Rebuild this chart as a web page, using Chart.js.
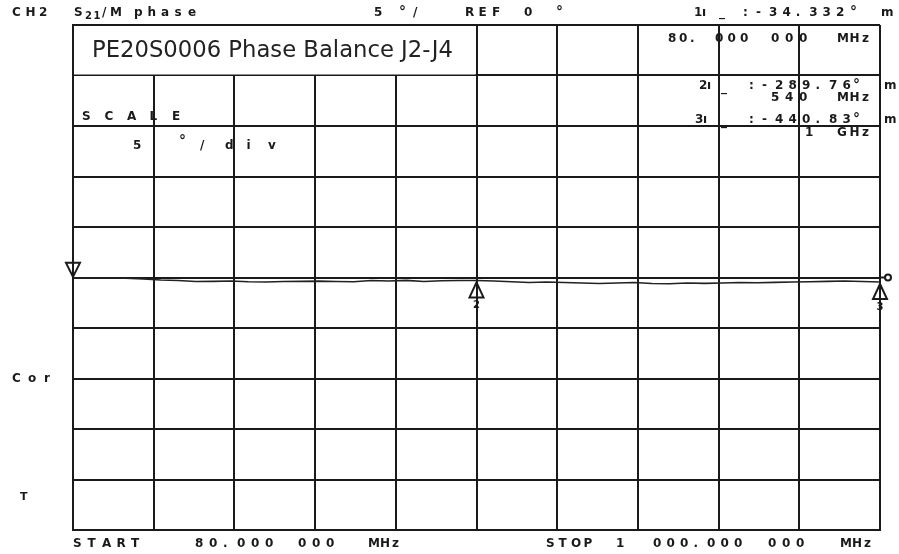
<!DOCTYPE html>
<html>
<head>
<meta charset="utf-8">
<script src="https://cdn.jsdelivr.net/npm/chart.js@4.4.1/dist/chart.umd.min.js"></script>
<style>
  html, body { margin: 0; padding: 0; background: #fff; }
</style>
</head>
<body>
<canvas id="vna" width="899" height="554"></canvas>
<script>
// trace: S21 phase (deg) vs frequency (MHz)
const freqs = [80, 100, 120, 140, 160, 180, 200, 220, 240, 260, 280, 300, 320, 340, 360, 380,
  400, 420, 440, 460, 480, 500, 520, 540, 560, 580, 600, 620, 640, 660, 680, 700, 720, 740,
  760, 780, 800, 820, 840, 860, 880, 900, 920, 940, 960, 980, 1000];
const phase = [-0.03, -0.03, -0.05, -0.08, -0.15, -0.25, -0.3, -0.4, -0.38, -0.35, -0.42, -0.45,
  -0.4, -0.38, -0.36, -0.4, -0.42, -0.3, -0.35, -0.28, -0.4, -0.32, -0.3, -0.29, -0.35, -0.42,
  -0.5, -0.45, -0.5, -0.55, -0.6, -0.55, -0.5, -0.6, -0.62, -0.55, -0.58, -0.55, -0.5, -0.52,
  -0.48, -0.45, -0.42, -0.38, -0.35, -0.4, -0.44];

// grid divisions: 10 x 10, 5 deg/div, ref 0 deg at centre
const xGrid = [80, 172, 264, 356, 448, 540, 632, 724, 816, 908, 1000];
const yGrid = [-25, -20, -15, -10, -5, 0, 5, 10, 15, 20, 25];

// markers
const markerNames = ["1", "2", "3"];
const markerFreqs = [80, 540, 1000];
const markerPhase = [-0.034332, -0.28976, -0.44083];

const title = "PE20S0006 Phase Balance J2-J4";
const INK = "#1a1a1a";

function spaced(ctx, str, x, y, pitch, size) {
  ctx.font = "bold " + (size || 12) + "px 'DejaVu Sans', sans-serif";
  for (let i = 0; i < str.length; i++) {
    ctx.fillText(str[i], x + i * (pitch || 0), y);
  }
}

const screenPlugin = {
  id: "screen",
  beforeDatasetsDraw(chart) {
    // white title box over the top-left of the graticule
    const { ctx, chartArea, scales } = chart;
    const x0 = scales.x.getPixelForValue(80) + 1;
    const x1 = scales.x.getPixelForValue(540) - 1;
    const y1 = scales.y.getPixelForValue(20) - 1;
    ctx.save();
    ctx.fillStyle = "#fff";
    ctx.fillRect(x0, chartArea.top + 1, x1 - x0, y1 - chartArea.top - 1);
    // fit title to its box width
    ctx.font = "100px 'DejaVu Sans', sans-serif";
    const w = ctx.measureText(title).width;
    const size = 100 * 361 / w;
    ctx.font = size + "px 'DejaVu Sans', sans-serif";
    ctx.fillStyle = "#222";
    ctx.textBaseline = "middle";
    ctx.fillText(title, 92, 51);
    ctx.restore();
  },
  afterDatasetsDraw(chart) {
    const { ctx, chartArea, scales } = chart;
    ctx.save();
    ctx.strokeStyle = INK;
    ctx.fillStyle = INK;
    ctx.lineWidth = 2;
    ctx.textBaseline = "middle";
    ctx.textAlign = "center";
    markerNames.forEach((name, i) => {
      const px = scales.x.getPixelForValue(markerFreqs[i]);
      const py = scales.y.getPixelForValue(markerPhase[i]);
      ctx.beginPath();
      if (i === 0) {
        // active marker: triangle pointing down onto the trace
        ctx.moveTo(px, py - 1);
        ctx.lineTo(px - 7, py - 15);
        ctx.lineTo(px + 7, py - 15);
        ctx.closePath();
        ctx.stroke();
        ctx.beginPath();
        ctx.moveTo(px, py - 16);
        ctx.lineTo(px, py - 25);
        ctx.stroke();
      } else {
        ctx.moveTo(px, py + 2);
        ctx.lineTo(px - 7, py + 17);
        ctx.lineTo(px + 7, py + 17);
        ctx.closePath();
        ctx.stroke();
        ctx.font = "bold 10px 'DejaVu Sans', sans-serif";
        ctx.fillText(name, px, py + 25);
      }
    });
    // reference position indicator on the right
    const ry = scales.y.getPixelForValue(0);
    ctx.beginPath();
    ctx.moveTo(chartArea.right, ry);
    ctx.lineTo(chartArea.right + 5, ry);
    ctx.stroke();
    ctx.beginPath();
    ctx.arc(chartArea.right + 8, ry, 3, 0, Math.PI * 2);
    ctx.stroke();

    // annotation texts
    ctx.textAlign = "left";
    spaced(ctx, "CH2", 12, 13, 13.5);
    spaced(ctx, "S", 74, 13);
    spaced(ctx, "21", 85, 16, 8.5, 10);
    spaced(ctx, "/", 102, 13);
    spaced(ctx, "M", 110, 13);
    spaced(ctx, "phase", 134, 13, 13.5);
    spaced(ctx, "5", 374, 13);
    spaced(ctx, "°", 399, 12, 0, 14);
    spaced(ctx, "/", 413, 13);
    spaced(ctx, "REF", 465, 13, 13.5);
    spaced(ctx, "0", 524, 13);
    spaced(ctx, "°", 556, 12, 0, 14);

    spaced(ctx, "1ı", 694, 13, 8);
    spaced(ctx, "_", 719, 13);
    spaced(ctx, ":", 743, 13);
    spaced(ctx, "-", 756, 13);
    spaced(ctx, "34.332", 769, 13, 13.4);
    spaced(ctx, "°", 850, 12, 0, 14);
    spaced(ctx, "m", 881, 13);

    spaced(ctx, "80.", 668, 39, 11);
    spaced(ctx, "000", 715, 39, 12.5);
    spaced(ctx, "000", 771, 39, 14);
    spaced(ctx, "MHz", 837, 39, 12.5);

    spaced(ctx, "2ı", 699, 86, 8);
    spaced(ctx, "_", 721, 88);
    spaced(ctx, ":", 749, 86);
    spaced(ctx, "-", 762, 86);
    spaced(ctx, "289.76", 775, 86, 13.5);
    spaced(ctx, "°", 853, 85, 0, 14);
    spaced(ctx, "m", 884, 86);
    spaced(ctx, "540", 771, 98, 14);
    spaced(ctx, "MHz", 837, 98, 12.5);

    spaced(ctx, "3ı", 695, 120, 8);
    spaced(ctx, "_", 721, 122);
    spaced(ctx, ":", 749, 120);
    spaced(ctx, "-", 762, 120);
    spaced(ctx, "440.83", 775, 120, 13.5);
    spaced(ctx, "°", 853, 119, 0, 14);
    spaced(ctx, "m", 884, 120);
    spaced(ctx, "1", 805, 133);
    spaced(ctx, "GHz", 837, 133, 12.5);

    spaced(ctx, "SCALE", 82, 117, 22.5);
    spaced(ctx, "5", 133, 146);
    spaced(ctx, "°", 179, 141, 0, 14);
    spaced(ctx, "/", 200, 146);
    spaced(ctx, "div", 225, 146, 21.5);

    spaced(ctx, "Cor", 12, 379, 16);
    spaced(ctx, "T", 20, 497, 0, 11);

    spaced(ctx, "START", 73, 544, 14.5);
    spaced(ctx, "80.000", 195, 544, 14);
    spaced(ctx, "000", 298, 544, 14);
    spaced(ctx, "MHz", 368, 544, 12);
    spaced(ctx, "STOP", 546, 544, 12.5);
    spaced(ctx, "1", 616, 544);
    spaced(ctx, "000.000", 653, 544, 13.5);
    spaced(ctx, "000", 768, 544, 14);
    spaced(ctx, "MHz", 840, 544, 12);
    ctx.restore();
  }
};

new Chart(document.getElementById("vna").getContext("2d"), {
  type: "line",
  data: {
    datasets: [{
      label: "S21 phase",
      data: freqs.map((f, i) => ({ x: f, y: phase[i] })),
      borderColor: "#222",
      borderWidth: 1.6,
      pointRadius: 0,
      tension: 0,
      fill: false
    }]
  },
  options: {
    responsive: false,
    animation: false,
    devicePixelRatio: 1,
    layout: { padding: { left: 73, right: 19, top: 25, bottom: 24 } },
    plugins: { legend: { display: false }, tooltip: { enabled: false } },
    scales: {
      x: {
        type: "linear",
        min: 80,
        max: 1000,
        afterBuildTicks: (s) => { s.ticks = xGrid.map(v => ({ value: v })); },
        ticks: { display: false },
        grid: { color: INK, lineWidth: 2, drawTicks: false },
        border: { display: true, color: INK, width: 2 }
      },
      y: {
        min: -25,
        max: 25,
        afterBuildTicks: (s) => { s.ticks = yGrid.map(v => ({ value: v })); },
        ticks: { display: false },
        grid: { color: INK, lineWidth: 2, drawTicks: false },
        border: { display: true, color: INK, width: 2 }
      }
    }
  },
  plugins: [screenPlugin]
});
</script>
</body>
</html>
